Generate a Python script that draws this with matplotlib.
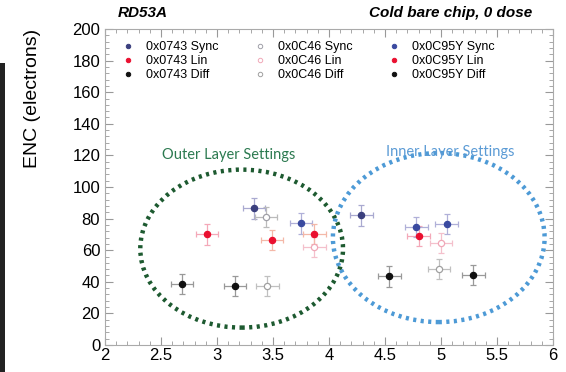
import matplotlib
matplotlib.use("Agg")
from matplotlib import pyplot as plt
from matplotlib.patches import Ellipse, Rectangle
from matplotlib.lines import Line2D
import numpy as np

plt.rcParams['font.family'] = ['Liberation Sans', 'DejaVu Sans']

# ENC values (x = setting, y = electrons)
sync0743_x = [3.33, 4.29]
sync0743_y = [86.5, 82.0]
lin0743_x = [2.91, 4.80]
lin0743_y = [70.0, 69.0]
diff0743_x = [2.69, 4.54]
diff0743_y = [38.5, 43.5]

sync0C46_x = [3.44]
sync0C46_y = [81.0]
lin0C46_x = [3.87, 5.00]
lin0C46_y = [62.0, 64.5]
diff0C46_x = [3.45, 4.98]
diff0C46_y = [37.3, 48.0]

sync0C95_x = [3.75, 4.78, 5.05]
sync0C95_y = [77.0, 74.7, 76.6]
lin0C95_x = [3.49, 3.87]
lin0C95_y = [66.5, 70.3]
diff0C95_x = [3.16, 5.29]
diff0C95_y = [37.3, 44.3]

x_err = 0.1
y_err = 6.5

fig = plt.figure(figsize=(5.66, 3.72), dpi=100)
ax = fig.add_axes([0.1855, 0.0726, 0.7915, 0.8494])

# faint black border seen at left edge of the screenshot
fig.add_artist(Rectangle((0, 0), 0.009, 0.83, transform=fig.transFigure,
                         color='#222222', lw=0))

handles = []

def series(x, y, color, ecolor, label, filled=True):
    if filled:
        mfc, mec = color, color
    else:
        mfc, mec = 'white', color
    ax.errorbar(x, y, xerr=x_err, yerr=y_err, fmt='o', ms=4.5, mfc=mfc, mec=mec,
                mew=0.9, ecolor=ecolor, elinewidth=0.9, capsize=2, capthick=0.8)
    handles.append(Line2D([], [], ls='none', marker='o', ms=3.2, mfc=mfc,
                          mec=mec, mew=0.7, label=label))

navy = '#3b3f7e'
blue = '#3a4aa0'
red = '#ea1030'
black = '#111111'

series(sync0743_x, sync0743_y, navy, '#a9a9d0', '0x0743 Sync')
series(lin0743_x, lin0743_y, red, '#f4a8b8', '0x0743 Lin')
series(diff0743_x, diff0743_y, black, '#999999', '0x0743 Diff')
series(sync0C46_x, sync0C46_y, '#a0a0a8', '#bbbbbb', '0x0C46 Sync', filled=False)
series(lin0C46_x, lin0C46_y, '#f0a8b8', '#f4c0cc', '0x0C46 Lin', filled=False)
series(diff0C46_x, diff0C46_y, '#a0a0a0', '#c0c0c0', '0x0C46 Diff', filled=False)
series(sync0C95_x, sync0C95_y, blue, '#b0b0d8', '0x0C95Y Sync')
series(lin0C95_x, lin0C95_y, red, '#f4b8a8', '0x0C95Y Lin')
series(diff0C95_x, diff0C95_y, black, '#999999', '0x0C95Y Diff')

# dotted ellipses around the two groups of settings
ax.add_patch(Ellipse((3.22, 61), 1.81, 100, fill=False, ec='#1d5a30',
                     lw=3.2, ls=(0, (0.7, 1.0))))
ax.add_patch(Ellipse((4.98, 68), 1.89, 107, fill=False, ec='#4d9ad6',
                     lw=3.2, ls=(0, (0.7, 1.0))))
ax.text(3.1, 120, 'Outer Layer Settings', color='#2c7a50', fontsize=10.5,
        ha='center', va='center', family=['Lato', 'DejaVu Sans'])
ax.text(5.08, 122, 'Inner Layer Settings', color='#5b9bd5', fontsize=10.5,
        ha='center', va='center', family=['Lato', 'DejaVu Sans'])

ax.set_xlim(2, 6)
ax.set_ylim(0, 200)
ax.set_xticks(np.arange(2, 6.01, 0.5))
ax.set_xticklabels(['2', '2.5', '3', '3.5', '4', '4.5', '5', '5.5', '6'])
ax.set_xticks(np.arange(2, 6.01, 0.1), minor=True)
ax.set_yticks(np.arange(0, 201, 20))
ax.set_yticks(np.arange(0, 201, 4), minor=True)
ax.tick_params(which='both', direction='in', top=True, right=True,
               color='#999999', labelsize=12)
ax.tick_params(which='major', length=6)
ax.tick_params(which='minor', length=3)
ax.tick_params(axis='x', pad=2)
for s in ax.spines.values():
    s.set_color('#aaaaaa')

fig.text(0.058, 0.735, 'ENC (electrons)', rotation=90, ha='center', va='center',
         fontsize=14)
fig.text(0.208, 0.965, 'RD53A', fontsize=11, fontweight='bold', style='italic',
         ha='left', va='center')
fig.text(0.94, 0.965, 'Cold bare chip, 0 dose', fontsize=11, fontweight='bold',
         style='italic', ha='right', va='center')

ax.legend(handles=handles, loc='upper left', bbox_to_anchor=(0.022, 0.985),
          ncol=3, frameon=False, fontsize=9, handlelength=0.83,
          handletextpad=1.08, columnspacing=2.85, labelspacing=0.15,
          borderaxespad=0.2)

fig.savefig('out.png', dpi=100)
